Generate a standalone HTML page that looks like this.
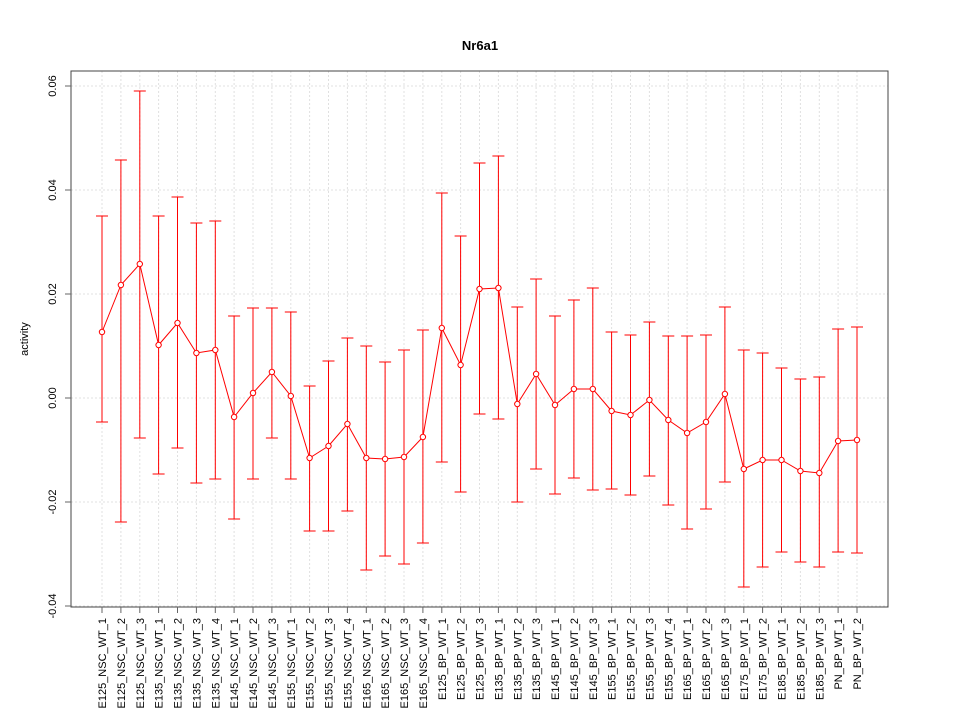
<!DOCTYPE html>
<html><head><meta charset="utf-8"><style>body{margin:0;background:#fff}svg{display:block}text{font-family:"Liberation Sans",sans-serif}</style></head><body>
<svg width="960" height="720" xmlns="http://www.w3.org/2000/svg">
<rect width="960" height="720" fill="#fff"/>
<g stroke="#e0e0e0" stroke-dasharray="2,2" stroke-width="1">
<path d="M102 71V607M120.9 71V607M139.8 71V607M158.6 71V607M177.5 71V607M196.4 71V607M215.3 71V607M234.1 71V607M253 71V607M271.9 71V607M290.8 71V607M309.6 71V607M328.5 71V607M347.4 71V607M366.3 71V607M385.1 71V607M404 71V607M422.9 71V607M441.8 71V607M460.6 71V607M479.5 71V607M498.4 71V607M517.3 71V607M536.1 71V607M555 71V607M573.9 71V607M592.8 71V607M611.6 71V607M630.5 71V607M649.4 71V607M668.3 71V607M687.1 71V607M706 71V607M724.9 71V607M743.8 71V607M762.6 71V607M781.5 71V607M800.4 71V607M819.3 71V607M838.1 71V607M857 71V607"/>
<path d="M71 86H888M71 190H888M71 294H888M71 398H888M71 502H888M71 606H888"/>
</g>
<rect x="71" y="71" width="817" height="536" fill="none" stroke="#444"/>
<g stroke="#666"><path d="M71 86h-6M71 190h-6M71 294h-6M71 398h-6M71 502h-6M71 606h-6"/>
<path d="M102 607v6M120.9 607v6M139.8 607v6M158.6 607v6M177.5 607v6M196.4 607v6M215.3 607v6M234.1 607v6M253 607v6M271.9 607v6M290.8 607v6M309.6 607v6M328.5 607v6M347.4 607v6M366.3 607v6M385.1 607v6M404 607v6M422.9 607v6M441.8 607v6M460.6 607v6M479.5 607v6M498.4 607v6M517.3 607v6M536.1 607v6M555 607v6M573.9 607v6M592.8 607v6M611.6 607v6M630.5 607v6M649.4 607v6M668.3 607v6M687.1 607v6M706 607v6M724.9 607v6M743.8 607v6M762.6 607v6M781.5 607v6M800.4 607v6M819.3 607v6M838.1 607v6M857 607v6"/></g>
<g font-size="11" text-anchor="middle">
<text transform="rotate(-90 56 86)" x="56" y="86">0.06</text>
<text transform="rotate(-90 56 190)" x="56" y="190">0.04</text>
<text transform="rotate(-90 56 294)" x="56" y="294">0.02</text>
<text transform="rotate(-90 56 398)" x="56" y="398">0.00</text>
<text transform="rotate(-90 56 502)" x="56" y="502">-0.02</text>
<text transform="rotate(-90 56 606)" x="56" y="606">-0.04</text>
<text transform="rotate(-90 28 339)" x="28" y="339">activity</text>
</g>
<text x="480" y="50" font-size="13" font-weight="bold" text-anchor="middle">Nr6a1</text>
<g stroke="#ff0000" fill="none" stroke-width="1">
<path d="M102 216V422M96 216h12M96 422h12M120.9 160V522M114.9 160h12M114.9 522h12M139.8 91V438M133.8 91h12M133.8 438h12M158.6 216V474M152.6 216h12M152.6 474h12M177.5 197V448M171.5 197h12M171.5 448h12M196.4 223V483M190.4 223h12M190.4 483h12M215.3 221V479M209.3 221h12M209.3 479h12M234.1 316V519M228.1 316h12M228.1 519h12M253 308V479M247 308h12M247 479h12M271.9 308V438M265.9 308h12M265.9 438h12M290.8 312V479M284.8 312h12M284.8 479h12M309.6 386V531M303.6 386h12M303.6 531h12M328.5 361V531M322.5 361h12M322.5 531h12M347.4 338V511M341.4 338h12M341.4 511h12M366.3 346V570M360.3 346h12M360.3 570h12M385.1 362V556M379.1 362h12M379.1 556h12M404 350V564M398 350h12M398 564h12M422.9 330V543M416.9 330h12M416.9 543h12M441.8 193V462M435.8 193h12M435.8 462h12M460.6 236V492M454.6 236h12M454.6 492h12M479.5 163V414M473.5 163h12M473.5 414h12M498.4 156V419M492.4 156h12M492.4 419h12M517.3 307V502M511.3 307h12M511.3 502h12M536.1 279V469M530.1 279h12M530.1 469h12M555 316V494M549 316h12M549 494h12M573.9 300V478M567.9 300h12M567.9 478h12M592.8 288V490M586.8 288h12M586.8 490h12M611.6 332V489M605.6 332h12M605.6 489h12M630.5 335V495M624.5 335h12M624.5 495h12M649.4 322V476M643.4 322h12M643.4 476h12M668.3 336V505M662.3 336h12M662.3 505h12M687.1 336V529M681.1 336h12M681.1 529h12M706 335V509M700 335h12M700 509h12M724.9 307V482M718.9 307h12M718.9 482h12M743.8 350V587M737.8 350h12M737.8 587h12M762.6 353V567M756.6 353h12M756.6 567h12M781.5 368V552M775.5 368h12M775.5 552h12M800.4 379V562M794.4 379h12M794.4 562h12M819.3 377V567M813.3 377h12M813.3 567h12M838.1 329V552M832.1 329h12M832.1 552h12M857 327V553M851 327h12M851 553h12"/>
<polyline points="102,332 120.9,285 139.8,264 158.6,345 177.5,323 196.4,353 215.3,350 234.1,417 253,393 271.9,372 290.8,396 309.6,458 328.5,446 347.4,424 366.3,458 385.1,459 404,457 422.9,437 441.8,328 460.6,365 479.5,289 498.4,288 517.3,404 536.1,374 555,405 573.9,389 592.8,389 611.6,411 630.5,415 649.4,400 668.3,420 687.1,433 706,422 724.9,394 743.8,469 762.6,460 781.5,460 800.4,471 819.3,473 838.1,441 857,440"/>
</g>
<g stroke="#ff0000" fill="#fff" stroke-width="1">
<circle cx="102" cy="332" r="2.7"/><circle cx="120.9" cy="285" r="2.7"/><circle cx="139.8" cy="264" r="2.7"/><circle cx="158.6" cy="345" r="2.7"/><circle cx="177.5" cy="323" r="2.7"/><circle cx="196.4" cy="353" r="2.7"/><circle cx="215.3" cy="350" r="2.7"/><circle cx="234.1" cy="417" r="2.7"/><circle cx="253" cy="393" r="2.7"/><circle cx="271.9" cy="372" r="2.7"/><circle cx="290.8" cy="396" r="2.7"/><circle cx="309.6" cy="458" r="2.7"/><circle cx="328.5" cy="446" r="2.7"/><circle cx="347.4" cy="424" r="2.7"/><circle cx="366.3" cy="458" r="2.7"/><circle cx="385.1" cy="459" r="2.7"/><circle cx="404" cy="457" r="2.7"/><circle cx="422.9" cy="437" r="2.7"/><circle cx="441.8" cy="328" r="2.7"/><circle cx="460.6" cy="365" r="2.7"/><circle cx="479.5" cy="289" r="2.7"/><circle cx="498.4" cy="288" r="2.7"/><circle cx="517.3" cy="404" r="2.7"/><circle cx="536.1" cy="374" r="2.7"/><circle cx="555" cy="405" r="2.7"/><circle cx="573.9" cy="389" r="2.7"/><circle cx="592.8" cy="389" r="2.7"/><circle cx="611.6" cy="411" r="2.7"/><circle cx="630.5" cy="415" r="2.7"/><circle cx="649.4" cy="400" r="2.7"/><circle cx="668.3" cy="420" r="2.7"/><circle cx="687.1" cy="433" r="2.7"/><circle cx="706" cy="422" r="2.7"/><circle cx="724.9" cy="394" r="2.7"/><circle cx="743.8" cy="469" r="2.7"/><circle cx="762.6" cy="460" r="2.7"/><circle cx="781.5" cy="460" r="2.7"/><circle cx="800.4" cy="471" r="2.7"/><circle cx="819.3" cy="473" r="2.7"/><circle cx="838.1" cy="441" r="2.7"/><circle cx="857" cy="440" r="2.7"/>
</g>
<g font-size="11" text-anchor="end">
<text transform="rotate(-90 106 618)" x="106" y="618">E125_NSC_WT_1</text>
<text transform="rotate(-90 124.9 618)" x="124.9" y="618">E125_NSC_WT_2</text>
<text transform="rotate(-90 143.8 618)" x="143.8" y="618">E125_NSC_WT_3</text>
<text transform="rotate(-90 162.6 618)" x="162.6" y="618">E135_NSC_WT_1</text>
<text transform="rotate(-90 181.5 618)" x="181.5" y="618">E135_NSC_WT_2</text>
<text transform="rotate(-90 200.4 618)" x="200.4" y="618">E135_NSC_WT_3</text>
<text transform="rotate(-90 219.3 618)" x="219.3" y="618">E135_NSC_WT_4</text>
<text transform="rotate(-90 238.1 618)" x="238.1" y="618">E145_NSC_WT_1</text>
<text transform="rotate(-90 257 618)" x="257" y="618">E145_NSC_WT_2</text>
<text transform="rotate(-90 275.9 618)" x="275.9" y="618">E145_NSC_WT_3</text>
<text transform="rotate(-90 294.8 618)" x="294.8" y="618">E155_NSC_WT_1</text>
<text transform="rotate(-90 313.6 618)" x="313.6" y="618">E155_NSC_WT_2</text>
<text transform="rotate(-90 332.5 618)" x="332.5" y="618">E155_NSC_WT_3</text>
<text transform="rotate(-90 351.4 618)" x="351.4" y="618">E155_NSC_WT_4</text>
<text transform="rotate(-90 370.3 618)" x="370.3" y="618">E165_NSC_WT_1</text>
<text transform="rotate(-90 389.1 618)" x="389.1" y="618">E165_NSC_WT_2</text>
<text transform="rotate(-90 408 618)" x="408" y="618">E165_NSC_WT_3</text>
<text transform="rotate(-90 426.9 618)" x="426.9" y="618">E165_NSC_WT_4</text>
<text transform="rotate(-90 445.8 618)" x="445.8" y="618">E125_BP_WT_1</text>
<text transform="rotate(-90 464.6 618)" x="464.6" y="618">E125_BP_WT_2</text>
<text transform="rotate(-90 483.5 618)" x="483.5" y="618">E125_BP_WT_3</text>
<text transform="rotate(-90 502.4 618)" x="502.4" y="618">E135_BP_WT_1</text>
<text transform="rotate(-90 521.3 618)" x="521.3" y="618">E135_BP_WT_2</text>
<text transform="rotate(-90 540.1 618)" x="540.1" y="618">E135_BP_WT_3</text>
<text transform="rotate(-90 559 618)" x="559" y="618">E145_BP_WT_1</text>
<text transform="rotate(-90 577.9 618)" x="577.9" y="618">E145_BP_WT_2</text>
<text transform="rotate(-90 596.8 618)" x="596.8" y="618">E145_BP_WT_3</text>
<text transform="rotate(-90 615.6 618)" x="615.6" y="618">E155_BP_WT_1</text>
<text transform="rotate(-90 634.5 618)" x="634.5" y="618">E155_BP_WT_2</text>
<text transform="rotate(-90 653.4 618)" x="653.4" y="618">E155_BP_WT_3</text>
<text transform="rotate(-90 672.3 618)" x="672.3" y="618">E155_BP_WT_4</text>
<text transform="rotate(-90 691.1 618)" x="691.1" y="618">E165_BP_WT_1</text>
<text transform="rotate(-90 710 618)" x="710" y="618">E165_BP_WT_2</text>
<text transform="rotate(-90 728.9 618)" x="728.9" y="618">E165_BP_WT_3</text>
<text transform="rotate(-90 747.8 618)" x="747.8" y="618">E175_BP_WT_1</text>
<text transform="rotate(-90 766.6 618)" x="766.6" y="618">E175_BP_WT_2</text>
<text transform="rotate(-90 785.5 618)" x="785.5" y="618">E185_BP_WT_1</text>
<text transform="rotate(-90 804.4 618)" x="804.4" y="618">E185_BP_WT_2</text>
<text transform="rotate(-90 823.3 618)" x="823.3" y="618">E185_BP_WT_3</text>
<text transform="rotate(-90 842.1 618)" x="842.1" y="618">PN_BP_WT_1</text>
<text transform="rotate(-90 861 618)" x="861" y="618">PN_BP_WT_2</text>
</g>
</svg>
</body></html>
